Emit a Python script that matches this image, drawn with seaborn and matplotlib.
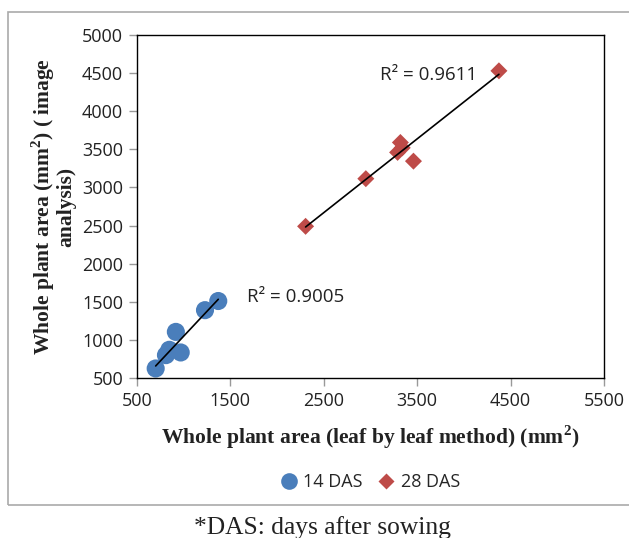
import matplotlib
matplotlib.use("Agg")
import matplotlib.pyplot as plt
import seaborn as sns
import pandas as pd
import numpy as np
from matplotlib.patches import Rectangle
from matplotlib.lines import Line2D

# Data
x14 = [700, 810, 846, 968, 916, 1228, 1370]
y14 = [625, 800, 870, 835, 1105, 1390, 1510]
x28 = [2305, 2950, 3290, 3320, 3340, 3460, 4375]
y28 = [2490, 3115, 3460, 3590, 3520, 3345, 4530]
series = ["14 DAS", "28 DAS"]
r2_labels = ["R² = 0.9005", "R² = 0.9611"]
xticks = [500, 1500, 2500, 3500, 4500, 5500]
yticks = [500, 1000, 1500, 2000, 2500, 3000, 3500, 4000, 4500, 5000]

df = pd.DataFrame({
    "x": x14 + x28,
    "y": y14 + y28,
    "group": [series[0]] * len(x14) + [series[1]] * len(x28),
})

sns.set_theme(style="white")
plt.rcParams['font.family'] = ['Open Sans', 'DejaVu Sans']

blue = "#4A7EBB"
red = "#BE4B48"

fig = plt.figure(figsize=(6.29, 5.38), dpi=100)
ax = fig.add_axes([137/629, 1-378/538, (604-137)/629, (378-35)/538])

sns.scatterplot(data=df, x="x", y="y", hue="group", style="group",
                palette={series[0]: blue, series[1]: red},
                markers={series[0]: "o", series[1]: "D"},
                s=150, edgecolor="none", legend=False, ax=ax)
colls = ax.collections
if len(colls) >= 1:
    sz = np.array([170 if g == series[0] else 75 for g in df["group"]])
    colls[0].set_sizes(sz)

for xs, ys in [(x14, y14), (x28, y28)]:
    sns.regplot(x=np.array(xs), y=np.array(ys), scatter=False, ci=None,
                truncate=True, color="black", line_kws={"linewidth": 1.2}, ax=ax)

ax.text(1678, 1563, r2_labels[0], fontsize=13.5, va="center", ha="left", color="#222222")
ax.text(3102, 4475, r2_labels[1], fontsize=13.5, va="center", ha="left", color="#222222")

ax.set_xlim(500, 5500)
ax.set_ylim(500, 5000)
ax.set_xticks(xticks)
ax.set_yticks(yticks)
ax.tick_params(axis="both", which="both", direction="out", length=6, width=1,
               color="#999999", labelsize=13, labelcolor="#222222", pad=4,
               bottom=True, left=True)
for s in ax.spines.values():
    s.set_color("black")
    s.set_linewidth(1.0)

serif = ["Liberation Serif", "DejaVu Serif"]
ax.set_xlabel("Whole plant area (leaf by leaf method) (mm$^{\\mathregular{2}}$)",
              fontsize=15.5, fontweight="bold", family=serif, color="#222222", labelpad=10)
ax.set_ylabel("Whole plant area (mm$^{\\mathregular{2}}$) ( image\nanalysis)",
              fontsize=15.5, fontweight="bold", family=serif, color="#222222",
              labelpad=4, linespacing=0.95)

handles = [
    Line2D([], [], marker="o", linestyle="none", markersize=12, color=blue, markeredgecolor="none"),
    Line2D([], [], marker="D", linestyle="none", markersize=8, color=red, markeredgecolor="none"),
]
fig.legend(handles, series, loc="center", bbox_to_anchor=(370/629, 1-482/538),
           ncol=2, frameon=False, fontsize=13, handlelength=1.0, handletextpad=0.3,
           columnspacing=0.8, borderaxespad=0)

fig.patches.append(Rectangle((8/629, 1-505/538), 1.0, (505-12)/538, transform=fig.transFigure,
                             fill=False, edgecolor="#AAAAAA", linewidth=1.2))

fig.text(322/629, 1-528/538, "*DAS: days after sowing", ha="center", va="center",
         fontsize=18.4, family=serif, color="#222222")

fig.savefig("out.png", dpi=100)
